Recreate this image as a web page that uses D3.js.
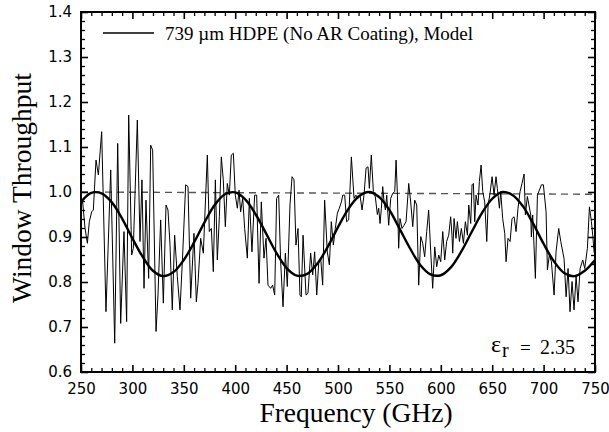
<!DOCTYPE html>
<html>
<head>
<meta charset="utf-8">
<script src="https://cdn.jsdelivr.net/npm/d3@7"></script>
<style>
  html, body { margin: 0; padding: 0; background: #fff; }
  svg { display: block; }
</style>
</head>
<body>
<svg id="chart" width="609" height="432"></svg>
<script>
// ---- Data ----
const measFreq = [
  250,251.6,253.9,256.2,258.1,260.4,262.0,264.6,266.9,270.1,274.3,278.9,282.8,285.7,288.6,291.8,294.4,296.4,299.3,300.9,
  304.8,307.4,309.3,311.3,313.2,315.8,317.8,319.7,323.0,324.9,327.5,330.1,332.7,334.6,336.6,338.8,341.1,343.7,346.3,348.9,
  351.8,354.1,356.7,359.9,362.2,363.8,366.4,369.0,370.9,372.9,374.8,376.8,378.7,380.7,382.6,384.6,386.5,388.4,390.4,392.3,
  394.3,396.2,398.2,400.1,402.1,403.7,405.3,407.3,409.2,411.8,413.8,416.3,418.9,420.9,423.2,425.4,428.0,430.0,431.9,434.5,
  436.4,438.4,440.3,442.3,444.2,446.5,448.8,450.7,453.3,455.3,457.2,459.1,461.1,463.0,464.3,466.0,468.9,470.8,473.4,475.4,
  477.3,479.3,481.2,483.2,485.1,487.0,489.6,491.6,493.5,495.5,497.4,499.4,501.3,503.3,504.6,506.5,508.4,510.4,513.0,515.6,
  517.5,519.5,521.4,523.4,525.3,527.3,529.2,530.5,532.4,534.4,536.3,538.3,539.6,540.9,542.2,543.5,544.8,546.1,547.4,549.3,
  551.3,553.2,555.2,556.5,557.8,559.0,560.3,562.3,564.2,566.2,568.8,570.7,572.7,574.6,576.6,578.5,580.5,582.4,584.3,586.3,
  588.2,590.2,592.1,594.1,596.0,598.0,599.9,601.9,603.8,605.7,607.7,609.6,610.9,611.6,612.9,614.8,616.1,618.1,620.0,622.0,
  623.9,625.9,627.2,629.1,630.4,631.7,633.0,634.3,636.2,637.5,639.2,640.8,642.7,644.7,646.0,647.9,649.9,651.8,653.7,655.0,
  657.0,658.3,660.2,662.2,663.5,665.4,667.4,669.3,671.3,673.2,675.1,677.1,679.0,681.0,682.3,684.2,687.5,688.1,689.4,692.0,
  694.0,697.9,699.8,702.4,703.7,705.6,707.6,710.2,712.1,714.7,716.7,719.9,721.9,723.8,725.7,727.7,729.6,731.6,733.5,735.5,
  738.1,740.0,742.6,744.6,746.5,747.8,749.1,750
];
const measThroughput = [
  0.970,0.978,0.920,0.886,0.934,0.956,0.960,1.071,1.038,1.134,0.734,1.049,0.664,1.108,0.708,0.912,0.712,1.171,0.860,0.875,
  1.160,0.890,1.027,0.786,0.982,0.808,1.104,1.093,0.690,0.771,0.938,0.753,0.971,0.960,0.882,0.738,0.904,0.812,0.738,0.860,
  1.016,1.012,0.764,0.908,0.756,0.797,0.897,0.864,0.971,1.082,0.912,0.919,0.823,1.027,0.849,0.945,1.078,1.027,0.923,1.019,
  0.993,1.082,1.086,0.993,0.964,1.004,0.956,0.986,0.919,0.853,0.986,0.867,0.993,0.993,0.797,0.978,0.853,0.897,0.793,0.786,
  0.793,0.771,0.986,0.993,0.845,0.745,0.864,0.790,0.971,1.034,1.027,0.882,0.919,0.771,0.767,0.904,0.771,0.775,0.864,0.816,
  0.867,0.771,0.841,0.852,0.793,0.982,0.867,0.838,0.934,0.882,0.919,0.953,0.964,0.978,0.993,0.993,0.934,0.938,1.078,0.986,
  0.993,0.986,0.993,0.960,0.993,1.053,1.056,1.008,1.082,1.001,0.989,0.950,0.964,0.930,0.964,1.012,0.978,0.960,0.993,0.926,
  0.986,0.997,1.001,1.071,0.993,0.875,0.941,0.919,0.926,0.934,1.019,0.978,0.923,0.982,0.971,0.793,0.901,0.886,0.856,0.912,
  0.960,0.867,0.786,0.878,0.834,0.860,0.845,0.912,0.849,0.890,0.904,0.945,0.904,0.864,0.941,0.897,0.934,0.890,0.919,0.886,
  0.934,0.904,0.971,0.930,1.016,1.019,0.934,0.993,0.971,1.023,1.060,1.001,0.978,0.890,0.971,0.997,1.034,0.993,1.034,1.008,
  0.964,1.001,0.941,0.908,0.845,0.897,0.890,0.941,0.945,0.912,0.964,1.001,1.019,1.040,0.949,0.990,0.949,0.900,0.949,0.808,
  0.993,1.016,1.016,0.956,0.827,0.860,0.845,0.771,0.867,0.919,0.890,0.852,0.767,0.830,0.734,0.801,0.738,0.812,0.756,0.830,
  0.849,0.830,0.875,0.967,0.934,0.904,0.867,0.860
];
const modelFreq = [250,260,270,280,290,300,310,320,330,340,350,360,370,380,390,400,410,420,430,440,450,460,470,480,490,
  500,510,520,530,540,550,560,570,580,590,600,610,620,630,640,650,660,670,680,690,700,710,720,730,740,750];
const modelThroughput = [0.978,0.998,0.997,0.977,0.941,0.897,0.856,0.825,0.813,0.822,0.849,0.888,0.932,0.971,0.995,0.999,
  0.983,0.950,0.908,0.865,0.831,0.814,0.818,0.841,0.878,0.922,0.962,0.990,1.000,0.989,0.960,0.918,0.875,0.838,0.817,0.815,
  0.833,0.868,0.911,0.953,0.985,1.000,0.993,0.968,0.929,0.885,0.846,0.820,0.813,0.825,0.849];
const unityFreq = [250, 750];
const unityLevel = [1.0, 0.995];
const xTicks = [250,300,350,400,450,500,550,600,650,700,750];
const yTicks = [0.6,0.7,0.8,0.9,1.0,1.1,1.2,1.3,1.4];
const legendLabel = "739 \u00b5m HDPE (No AR Coating), Model";
const xTitle = "Frequency (GHz)";
const yTitle = "Window Throughput";

// ---- Layout ----
const W = 609, H = 432;
const m = {left: 81, right: 14, top: 12, bottom: 60};
const svg = d3.select("#chart");
const x = d3.scaleLinear().domain([250, 750]).range([m.left, W - m.right]);
const y = d3.scaleLinear().domain([0.6, 1.4]).range([H - m.bottom, m.top]);

const tickFont = "'DejaVu Sans', sans-serif";
const serif = "'Liberation Serif', 'Times New Roman', serif";

// dashed unity line
svg.append("path")
  .datum(d3.zip(unityFreq, unityLevel))
  .attr("fill", "none").attr("stroke", "#555").attr("stroke-width", 1.4)
  .attr("stroke-dasharray", "7,5")
  .attr("d", d3.line().x(d => x(d[0])).y(d => y(d[1])));

// measured
svg.append("path")
  .datum(d3.zip(measFreq, measThroughput))
  .attr("fill", "none").attr("stroke", "#000").attr("stroke-width", 1)
  .attr("stroke-linejoin", "round")
  .attr("d", d3.line().x(d => x(d[0])).y(d => y(d[1])));

// model
svg.append("path")
  .datum(d3.zip(modelFreq, modelThroughput))
  .attr("fill", "none").attr("stroke", "#000").attr("stroke-width", 2.4)
  .attr("d", d3.line().curve(d3.curveCatmullRom).x(d => x(d[0])).y(d => y(d[1])));

// axes - major
function styleAxis(g, labels) {
  g.select(".domain").remove();
  g.selectAll(".tick line").attr("stroke", "#000").attr("stroke-width", 1.6);
  g.selectAll(".tick text").attr("font-family", tickFont).attr("font-size", "15px").attr("fill", "#000");
  if (!labels) g.selectAll(".tick text").remove();
}
const bottomAxis = svg.append("g").attr("transform", `translate(0,${H - m.bottom})`)
  .call(d3.axisBottom(x).tickValues(xTicks).tickSize(-7).tickPadding(11).tickFormat(d3.format("d")));
styleAxis(bottomAxis, true);
const topAxis = svg.append("g").attr("transform", `translate(0,${m.top})`)
  .call(d3.axisTop(x).tickValues(xTicks).tickSize(-7));
styleAxis(topAxis, false);
const leftAxis = svg.append("g").attr("transform", `translate(${m.left},0)`)
  .call(d3.axisLeft(y).tickValues(yTicks).tickSize(-7).tickPadding(9).tickFormat(d3.format(".1f")));
styleAxis(leftAxis, true);
const rightAxis = svg.append("g").attr("transform", `translate(${W - m.right},0)`)
  .call(d3.axisRight(y).tickValues(yTicks).tickSize(-7));
styleAxis(rightAxis, false);

// minor ticks
const xMinor = d3.range(250, 751, 10).filter(v => v % 50 !== 0);
const yMinor = d3.range(60, 141, 2).filter(v => v % 10 !== 0).map(v => v / 100);
function minor(g) {
  g.select(".domain").remove();
  g.selectAll(".tick text").remove();
  g.selectAll(".tick line").attr("stroke", "#000").attr("stroke-width", 1.3);
}
svg.append("g").attr("transform", `translate(0,${H - m.bottom})`).call(d3.axisBottom(x).tickValues(xMinor).tickSize(-4)).call(minor);
svg.append("g").attr("transform", `translate(0,${m.top})`).call(d3.axisTop(x).tickValues(xMinor).tickSize(-4)).call(minor);
svg.append("g").attr("transform", `translate(${m.left},0)`).call(d3.axisLeft(y).tickValues(yMinor).tickSize(-4)).call(minor);
svg.append("g").attr("transform", `translate(${W - m.right},0)`).call(d3.axisRight(y).tickValues(yMinor).tickSize(-4)).call(minor);

// frame
svg.append("rect")
  .attr("x", m.left).attr("y", m.top)
  .attr("width", W - m.left - m.right).attr("height", H - m.top - m.bottom)
  .attr("fill", "none").attr("stroke", "#000").attr("stroke-width", 2);

// legend
svg.append("line").attr("x1", 103).attr("x2", 154).attr("y1", 33).attr("y2", 33)
  .attr("stroke", "#000").attr("stroke-width", 1.4);
svg.append("text").attr("x", 165).attr("y", 40)
  .attr("font-family", serif).attr("font-size", "19px").text(legendLabel);

// annotation
svg.append("text").attr("x", 491).attr("y", 352).attr("font-family", serif).attr("font-size", "24px").text("\u03b5");
svg.append("text").attr("x", 502).attr("y", 356.5).attr("font-family", serif).attr("font-size", "20px").text("r");
svg.append("text").attr("x", 520).attr("y", 354).attr("font-family", serif).attr("font-size", "19px").text("=");
svg.append("text").attr("x", 575).attr("y", 354).attr("text-anchor", "end").attr("font-family", serif).attr("font-size", "20px").text("2.35");

// axis titles
svg.append("text").attr("x", 356).attr("y", 422).attr("text-anchor", "middle")
  .attr("font-family", serif).attr("font-size", "27.5px").text(xTitle);
svg.append("text").attr("transform", "translate(31,188) rotate(-90)").attr("text-anchor", "middle")
  .attr("font-family", serif).attr("font-size", "27.5px").text(yTitle);
</script>
</body>
</html>
